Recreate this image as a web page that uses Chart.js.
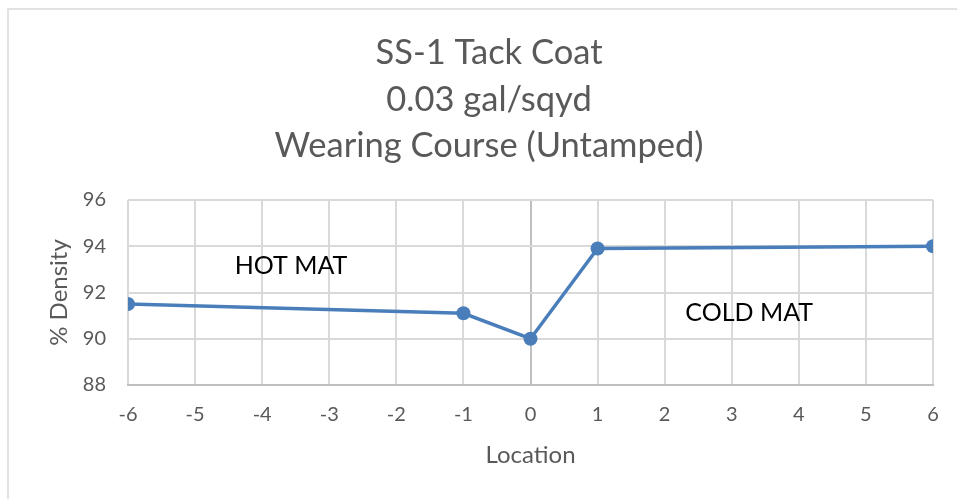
<!DOCTYPE html>
<html>
<head>
<meta charset="utf-8">
<script src="https://cdn.jsdelivr.net/npm/chart.js@4"></script>
<style>
  html, body { margin: 0; padding: 0; background: #fff; }
  #wrap { width: 957px; height: 499px; position: relative; }
</style>
</head>
<body>
<div id="wrap"><canvas id="c" width="957" height="499"></canvas></div>
<script>
const titleLines = ["SS-1 Tack Coat", "0.03 gal/sqyd", "Wearing Course (Untamped)"];
const locations = [-6, -1, 0, 1, 6];
const density = [91.5, 91.1, 90.0, 93.9, 94.0];
const xTitle = "Location";
const yTitle = "% Density";
const annotations = [
  { text: "HOT MAT", x: -3.57, y: 93.15 },
  { text: "COLD MAT", x: 3.26, y: 91.11 }
];

const FONT = "Lato, 'Open Sans', sans-serif";
const GRAY = "#595959";

const framePlugin = {
  id: "frame",
  beforeDraw(chart) {
    const c = chart.ctx;
    c.save();
    c.fillStyle = "#fff";
    c.fillRect(0, 0, chart.width, chart.height);
    c.strokeStyle = "#d9d9d9";
    c.lineWidth = 1.5;
    c.beginPath();
    c.moveTo(8, chart.height);
    c.lineTo(8, 9);
    c.lineTo(chart.width, 9);
    c.stroke();
    // chart title (centred on the chart frame, which extends past the right edge)
    c.fillStyle = GRAY;
    c.font = "34.5px " + FONT;
    c.textAlign = "center";
    c.textBaseline = "middle";
    titleLines.forEach((t, i) => c.fillText(t, 489, 53 + i * 46.5));
    c.restore();
  }
};

const annotPlugin = {
  id: "annot",
  afterDatasetsDraw(chart) {
    const c = chart.ctx;
    const xs = chart.scales.x, ys = chart.scales.y;
    c.save();
    c.fillStyle = "#000";
    c.font = "25px " + FONT;
    c.textAlign = "center";
    c.textBaseline = "middle";
    annotations.forEach(a => {
      c.fillText(a.text, xs.getPixelForValue(a.x), ys.getPixelForValue(a.y));
    });
    c.restore();
  }
};

new Chart(document.getElementById("c"), {
  type: "line",
  data: {
    datasets: [{
      data: locations.map((x, i) => ({ x: x, y: density[i] })),
      borderColor: "#4a7ebb",
      backgroundColor: "#4a7ebb",
      borderWidth: 3.5,
      pointRadius: 7,
      pointHoverRadius: 7,
      pointBorderWidth: 0,
      tension: 0,
      fill: false
    }]
  },
  options: {
    responsive: false,
    animation: false,
    devicePixelRatio: 1,
    layout: { padding: { left: 20, right: 24, top: 200, bottom: 0 } },
    plugins: {
      legend: { display: false },
      tooltip: { enabled: false },
      title: { display: false }
    },
    scales: {
      x: {
        type: "linear",
        min: -6, max: 6,
        ticks: { stepSize: 1, color: GRAY, font: { family: FONT, size: 20, lineHeight: 1.2 }, padding: 18 },
        grid: {
          color: ctx => (ctx.tick && ctx.tick.value === 0) ? "#bfbfbf" : "#d9d9d9",
          lineWidth: 2,
          drawTicks: false
        },
        border: { display: true, color: "#bfbfbf", width: 2 },
        title: { display: true, text: xTitle, color: GRAY, font: { family: FONT, size: 24, lineHeight: 1.2 }, padding: { top: 4, bottom: 29 } },
        afterFit(scale) { scale.height = 114; }
      },
      y: {
        min: 88, max: 96,
        ticks: { stepSize: 2, color: GRAY, font: { family: FONT, size: 20 }, padding: 22 },
        grid: { color: "#d9d9d9", lineWidth: 2, drawTicks: false },
        border: { display: false },
        title: { display: true, text: yTitle, color: GRAY, font: { family: FONT, size: 24, lineHeight: 1.2 }, padding: { top: 25, bottom: 6 } },
        afterFit(scale) { scale.width = 108; }
      }
    }
  },
  plugins: [framePlugin, annotPlugin]
});
</script>
</body>
</html>
